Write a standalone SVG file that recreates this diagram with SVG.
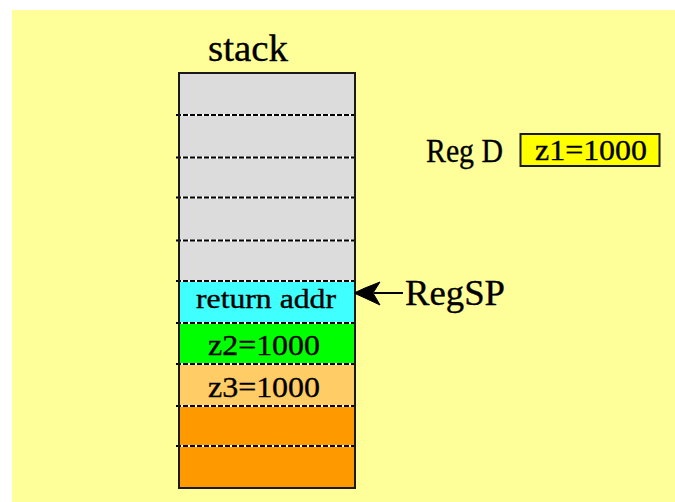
<svg xmlns="http://www.w3.org/2000/svg" width="675" height="502" viewBox="0 0 675 502">
<style>
.t{font-family:"Liberation Serif","Times New Roman",serif;fill:#000;stroke:#000;stroke-width:0.35;}
.cell{stroke:none;}
.sepw{stroke:#fff;stroke-width:2;}
.sepb{stroke:#000;stroke-width:2;stroke-dasharray:5 2;}
</style>
<rect x="0" y="0" width="675" height="502" fill="#fff"/>
<rect x="12" y="10" width="663" height="492" fill="#FFFF99"/>
<g id="stack">
<text class="t" x="208" y="60.5" font-size="37" textLength="80" lengthAdjust="spacingAndGlyphs">stack</text>
<rect class="cell" x="179" y="73" width="176" height="208" fill="#DCDCDC"/>
<rect class="cell" x="179" y="281" width="176" height="42" fill="#3FFFFF"/>
<rect class="cell" x="179" y="323" width="176" height="41" fill="#00FF00"/>
<rect class="cell" x="179" y="364" width="176" height="42" fill="#FFCC66"/>
<rect class="cell" x="179" y="406" width="176" height="82" fill="#FF9900"/>
<g>
<line class="sepw" x1="176" y1="115" x2="354" y2="115"/><line class="sepb" x1="176" y1="115" x2="354" y2="115"/>
<line class="sepw" x1="176" y1="157.5" x2="354" y2="157.5"/><line class="sepb" x1="176" y1="157.5" x2="354" y2="157.5"/>
<line class="sepw" x1="176" y1="197.5" x2="354" y2="197.5"/><line class="sepb" x1="176" y1="197.5" x2="354" y2="197.5"/>
<line class="sepw" x1="176" y1="240.5" x2="354" y2="240.5"/><line class="sepb" x1="176" y1="240.5" x2="354" y2="240.5"/>
<line class="sepw" x1="176" y1="281" x2="354" y2="281"/><line class="sepb" x1="176" y1="281" x2="354" y2="281"/>
<line class="sepw" x1="176" y1="323" x2="354" y2="323"/><line class="sepb" x1="176" y1="323" x2="354" y2="323"/>
<line class="sepw" x1="176" y1="364" x2="354" y2="364"/><line class="sepb" x1="176" y1="364" x2="354" y2="364"/>
<line class="sepw" x1="176" y1="406" x2="354" y2="406"/><line class="sepb" x1="176" y1="406" x2="354" y2="406"/>
<line class="sepw" x1="176" y1="446" x2="354" y2="446"/><line class="sepb" x1="176" y1="446" x2="354" y2="446"/>
</g>
<rect x="179" y="73" width="176" height="415" fill="none" stroke="#1a1a1a" stroke-width="2"/>
<text class="t" x="196" y="308" font-size="28" textLength="140" lengthAdjust="spacingAndGlyphs">return addr</text>
<text class="t" x="208" y="355" font-size="29" textLength="112" lengthAdjust="spacingAndGlyphs">z2=1000</text>
<text class="t" x="208" y="396.5" font-size="29" textLength="112" lengthAdjust="spacingAndGlyphs">z3=1000</text>
</g>
<g id="regsp">
<text class="t" x="405" y="305" font-size="36" textLength="100" lengthAdjust="spacingAndGlyphs">RegSP</text>
</g>
<g id="regd">
<text class="t" x="426" y="161.5" font-size="34" textLength="77" lengthAdjust="spacingAndGlyphs">Reg D</text>
<rect x="520.5" y="134" width="139" height="32" fill="#FFFF00" stroke="#1a1a1a" stroke-width="2"/>
<text class="t" x="535" y="160" font-size="29" textLength="112" lengthAdjust="spacingAndGlyphs">z1=1000</text>
</g>
<g id="connectors">
<line x1="374" y1="293" x2="403" y2="293" stroke="#000" stroke-width="2"/>
<path d="M354,293 L365,288 L380,282 L373,293 L380,305 L365,298 Z" fill="#000" stroke="#000" stroke-width="1" stroke-linejoin="round"/>
</g>
</svg>
